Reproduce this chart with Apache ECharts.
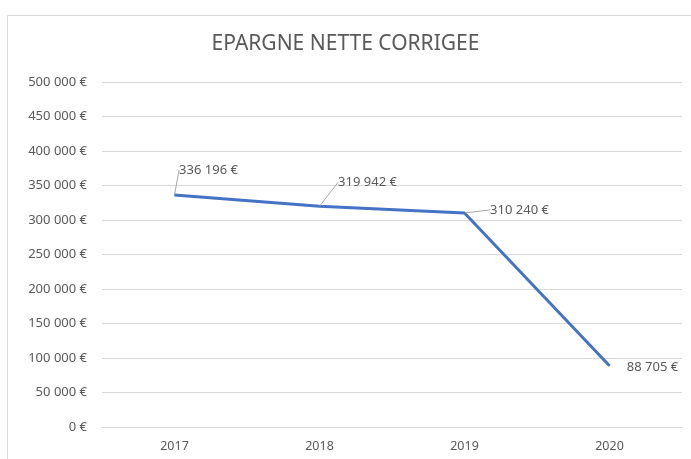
<!DOCTYPE html>
<html>
<head>
<meta charset="utf-8">
<script src="https://cdn.jsdelivr.net/npm/echarts@6/dist/echarts.min.js"></script>
<style>
  html, body { margin: 0; padding: 0; background: #fff; }
  #chart { width: 691px; height: 459px; }
</style>
</head>
<body>
<div id="chart"></div>
<script>
// data
var years = ['2017', '2018', '2019', '2020'];
var epargne = [336196, 319942, 310240, 88705];
// label offsets (dx, dy) so labels sit like the original
var labelShift = [[34, -25], [48, -24], [55, -3], [43, 2]];
var showLeader = [true, true, true, false];

function fmtEuro(v) {
    var s = String(Math.round(v));
    s = s.replace(/\B(?=(\d{3})+(?!\d))/g, ' ');
    return s + ' €';
}

var seriesData = epargne.map(function (v, i) {
    return { value: v, labelLine: { show: showLeader[i] } };
});

var myChart = echarts.init(document.getElementById('chart'));

var option = {
    animation: false,
    textStyle: { fontFamily: 'Noto Sans' },
    title: {
        text: 'EPARGNE NETTE CORRIGEE',
        left: 'center',
        top: 29,
        textStyle: { color: '#595959', fontSize: 21, fontWeight: 'normal', fontFamily: 'Noto Sans' }
    },
    graphic: [{
        type: 'rect',
        shape: { x: 7.5, y: 15.5, width: 720, height: 480 },
        style: { fill: 'none', stroke: '#d9d9d9', lineWidth: 1 },
        silent: true
    }],
    grid: { left: 102, right: 9, top: 82, bottom: 32 },
    xAxis: {
        type: 'category',
        data: years,
        axisLine: { show: true, lineStyle: { color: '#d9d9d9' } },
        axisTick: { show: false },
        axisLabel: { color: '#595959', fontSize: 12.5, margin: 13 }
    },
    yAxis: {
        type: 'value',
        min: 0,
        max: 500000,
        interval: 50000,
        axisLine: { show: false },
        axisTick: { show: false },
        splitLine: { lineStyle: { color: '#d9d9d9' } },
        axisLabel: { color: '#595959', fontSize: 13, margin: 15, formatter: fmtEuro }
    },
    series: [{
        type: 'line',
        data: seriesData,
        showSymbol: true,
        symbol: 'circle',
        symbolSize: 1,
        itemStyle: { color: '#4472C4' },
        lineStyle: { color: '#4472C4', width: 3 },
        label: {
            show: true,
            position: 'inside',
            color: '#595959',
            fontSize: 13,
            formatter: function (p) { return fmtEuro(p.value); }
        },
        labelLine: { show: true, lineStyle: { color: '#a6a6a6', width: 1 } },
        labelLayout: function (params) {
            var d = labelShift[params.dataIndex];
            return { dx: d[0], dy: d[1] };
        }
    }]
};

myChart.setOption(option);
</script>
</body>
</html>
